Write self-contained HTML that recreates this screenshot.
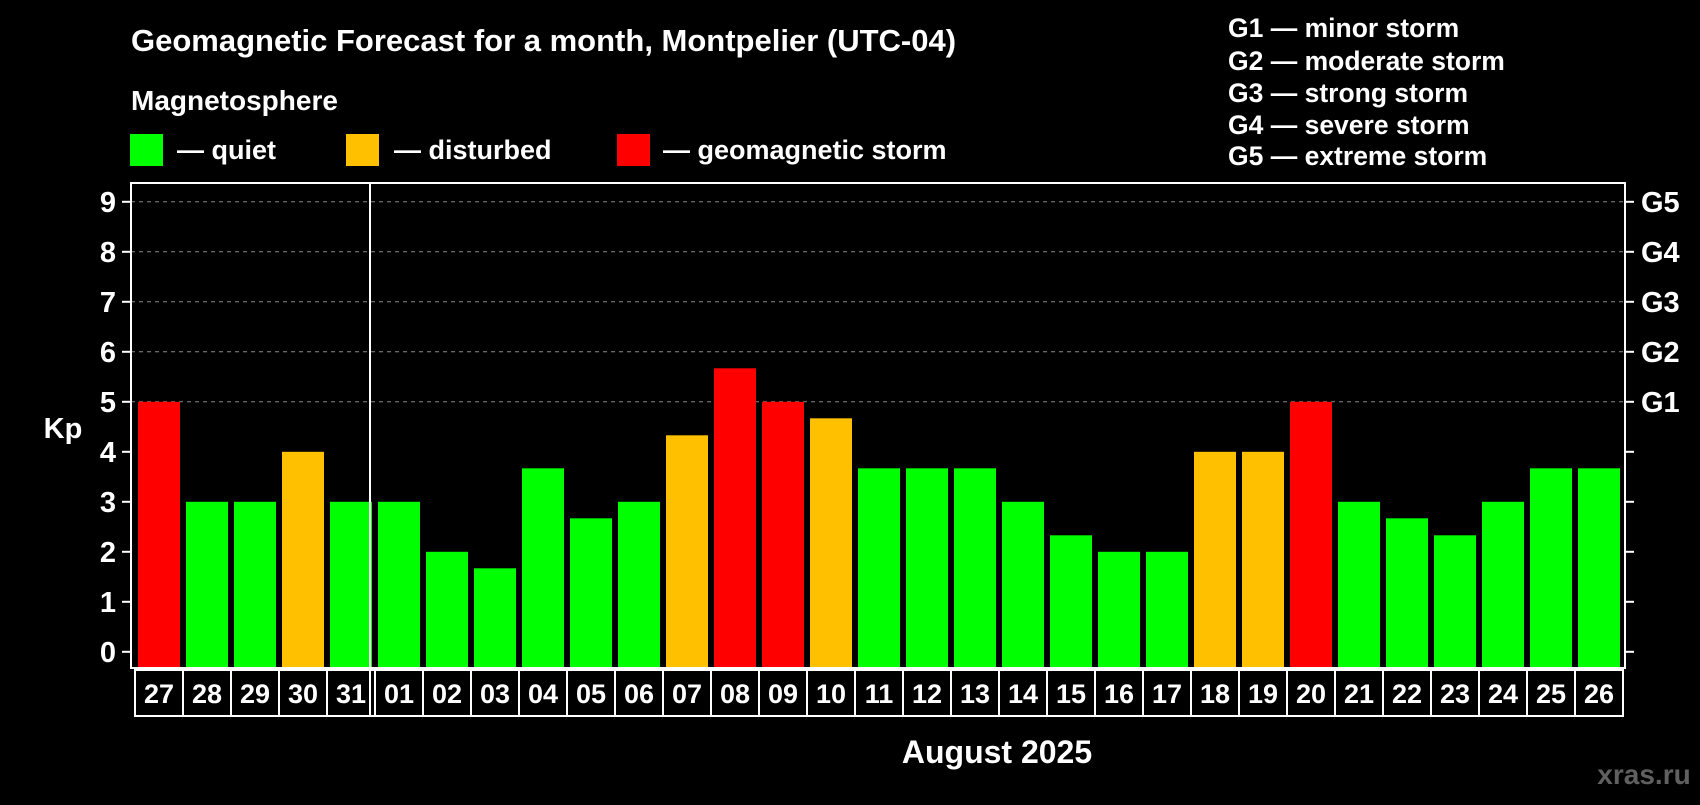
<!DOCTYPE html>
<html><head><meta charset="utf-8"><style>
body{margin:0;background:#000;width:1700px;height:800px;overflow:hidden}
svg text{font-family:"Liberation Sans",Arial,sans-serif;font-weight:bold;fill:#fff}
</style></head><body>
<svg width="1700" height="800">
<text x="131" y="51" font-size="31">Geomagnetic Forecast for a month, Montpelier (UTC-04)</text>
<text x="131" y="110" font-size="28">Magnetosphere</text>
<rect x="130" y="134" width="33" height="32" fill="#00ff00"/>
<text x="177" y="159" font-size="27">— quiet</text>
<rect x="346" y="134" width="33" height="32" fill="#ffc000"/>
<text x="394" y="159" font-size="27">— disturbed</text>
<rect x="617" y="134" width="33" height="32" fill="#ff0000"/>
<text x="663" y="159" font-size="27">— geomagnetic storm</text>
<g font-size="26.5">
<text x="1228" y="37">G1 — minor storm</text>
<text x="1228" y="70">G2 — moderate storm</text>
<text x="1228" y="102">G3 — strong storm</text>
<text x="1228" y="134">G4 — severe storm</text>
<text x="1228" y="165">G5 — extreme storm</text>
</g>
<text x="63" y="438" font-size="29" text-anchor="middle">Kp</text>
<text x="997" y="763" font-size="32" text-anchor="middle">August 2025</text>
<text x="1644" y="784" font-size="28" style="fill:#606060" text-anchor="middle">xras.ru</text>
<g id="grid"></g><g id="bars"></g><g id="axes"></g>
</svg>
<script>
const days=["27","28","29","30","31","01","02","03","04","05","06","07","08","09","10","11","12","13","14","15","16","17","18","19","20","21","22","23","24","25","26"];
const kp=[5,3,3,4,3,3,2,1.67,3.67,2.67,3,4.33,5.67,5,4.67,3.67,3.67,3.67,3,2.33,2,2,4,4,5,3,2.67,2.33,3,3.67,3.67];
const yTicks=[0,1,2,3,4,5,6,7,8,9];
const gLabels=["G1","G2","G3","G4","G5"];
const NS="http://www.w3.org/2000/svg";
const L=131,T=183,R=1625,B=668,X0=132,SW=48;
const y=v=>651.8-v*50;
const x=i=>X0+i*SW;
function mk(t,a,p){const e=document.createElementNS(NS,t);for(const k in a)e.setAttribute(k,a[k]);p.appendChild(e);return e;}
const grid=document.getElementById('grid'),bars=document.getElementById('bars'),axes=document.getElementById('axes');
yTicks.forEach(v=>{
 if(v>=5){const g=mk('line',{x1:L,x2:R,y1:y(v),y2:y(v),stroke:'#888','stroke-dasharray':'4,4','stroke-width':1},grid);
 
 }
 const t1=mk('line',{x1:L-9,x2:L,y1:y(v),y2:y(v),stroke:'#fff','stroke-width':2},axes);
 
 
 mk('line',{x1:R,x2:R+9,y1:y(v),y2:y(v),stroke:'#fff','stroke-width':2},axes);
 const tx=mk('text',{x:L-15,y:y(v)+10,'font-size':29,'text-anchor':'end'},axes);tx.textContent=v;
 
 
});
gLabels.forEach((g,i)=>{const t=mk('text',{x:R+16,y:y(5+i)+10,'font-size':29},axes);t.textContent=g;
 
 });
kp.forEach((v,i)=>{
 const c=v>=5?'#ff0000':(v>=4?'#ffc000':'#00ff00');
 const r=mk('rect',{x:x(i)+6,y:y(v),width:42,height:B-y(v)-1,fill:c},bars);
 
 
 const b=mk('rect',{x:x(i)+3,y:670,width:SW,height:46,fill:'none',stroke:'#fff','stroke-width':2},axes);
 
 
 const t=mk('text',{x:x(i)+27,y:703,'font-size':27,'text-anchor':'middle'},axes);t.textContent=days[i];
 
 
});
const f=mk('rect',{x:L,y:T,width:R-L,height:B-T,fill:'none',stroke:'#fff','stroke-width':2},axes);


const d=mk('line',{x1:x(5)-2,x2:x(5)-2,y1:T,y2:716,stroke:'#fff','stroke-width':2},axes);


</script>
</body></html>
